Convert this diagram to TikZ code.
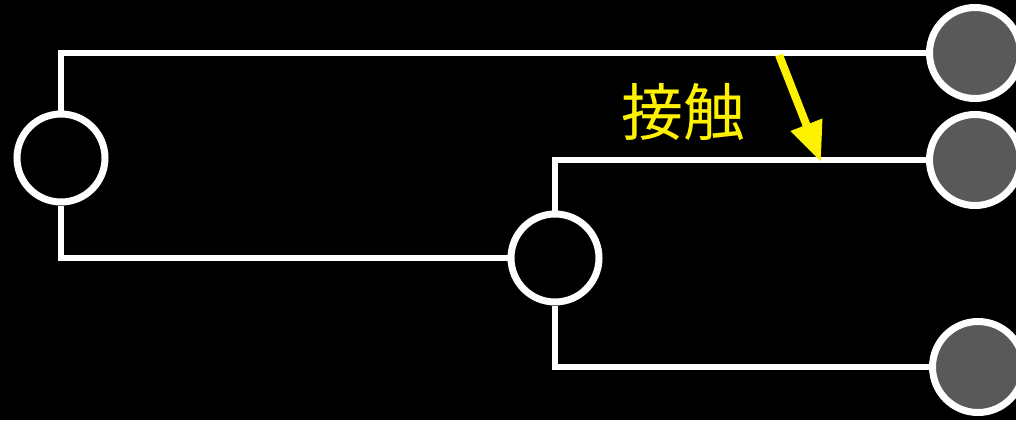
\documentclass[tikz,border=0pt]{standalone}
\usepackage{fontspec}
\newfontfamily\cjk{Noto Sans CJK JP}
\usetikzlibrary{arrows.meta}
\begin{document}
\begin{tikzpicture}[x=1pt,y=-1pt,
  hub/.style={circle,draw=white,line width=7pt,fill=black,minimum size=88pt,inner sep=0pt},
  leaf/.style={circle,draw=white,line width=7pt,fill={rgb,255:red,89;green,89;blue,89},minimum size=91pt,inner sep=0pt},
  wire/.style={draw=white,line width=6pt,line join=miter},
  contact/.style={draw=yellow,line width=8pt,-{Triangle[length=40pt,width=32pt]}}]
\fill[black] (0,0) rectangle (1016,420);
\useasboundingbox (0,0) rectangle (1016,420);
\node[hub] (L) at (61,158) {};
\node[hub] (M) at (555,258) {};
\node[leaf] (R1) at (975,53) {};
\node[leaf] (R2) at (975,160) {};
\node[leaf] (R3) at (978,367) {};
\draw[wire] (L.north) |- (R1.west);
\draw[wire] (L.south) |- (M.west);
\draw[wire] (M.north) |- (R2.west);
\draw[wire] (M.south) |- (R3.west);
\node[text=yellow,font=\cjk\fontsize{62}{62}\selectfont] (T) at (683,112) {接触};
\coordinate (A0) at (779,55);
\coordinate (A1) at (821,162);
\draw[contact] (A0) -- (A1);
\end{tikzpicture}
\end{document}
